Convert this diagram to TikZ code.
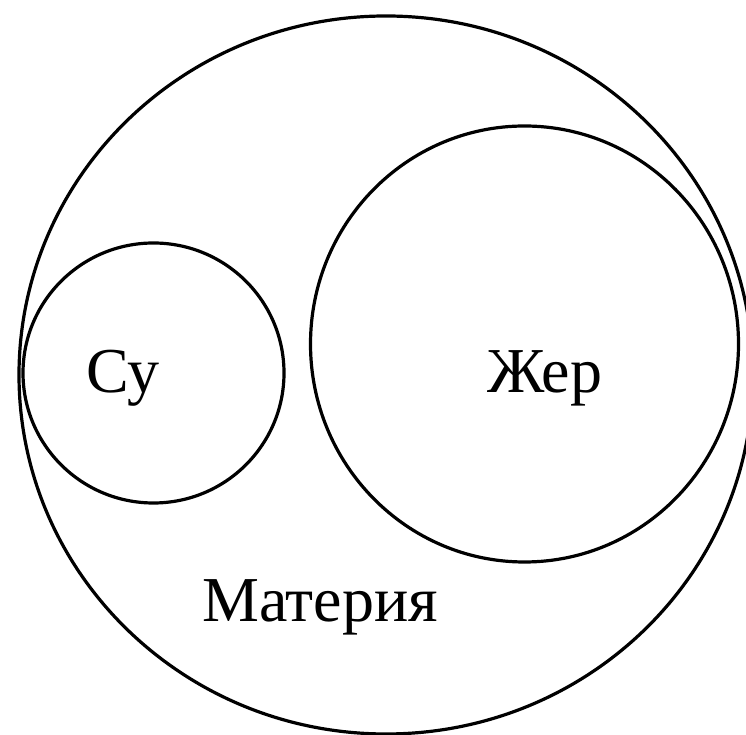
\documentclass[tikz,border=0pt]{standalone}
\usepackage{fontspec}
\setmainfont{Liberation Serif}
\usetikzlibrary{shapes.geometric}
\begin{document}
\begin{tikzpicture}[x=1pt,y=1pt,
  ring/.style={draw=black, line width=3.2pt, ellipse, inner sep=0pt},
  lbl/.style={font=\fontsize{64}{72}\selectfont, anchor=base, inner sep=0pt}]
\useasboundingbox (0,0) rectangle (746,735);
\clip (0,0) rectangle (746,735);
\fill[white] (0,0) rectangle (746,735);
\node[ring, minimum width=734pt, minimum height=718pt] (matter) at (386,360) {};
\node[ring, minimum width=428pt, minimum height=436pt] (earth) at (524.5,391) {};
\node[ring, minimum width=261pt, minimum height=260pt] (water) at (153.5,362) {};
\node[lbl] (tsu) at (123,342) {Су};
\node[lbl] (tzher) at (545,342) {Жер};
\node[lbl] (tmat) at (320,113) {Материя};
\end{tikzpicture}
\end{document}
